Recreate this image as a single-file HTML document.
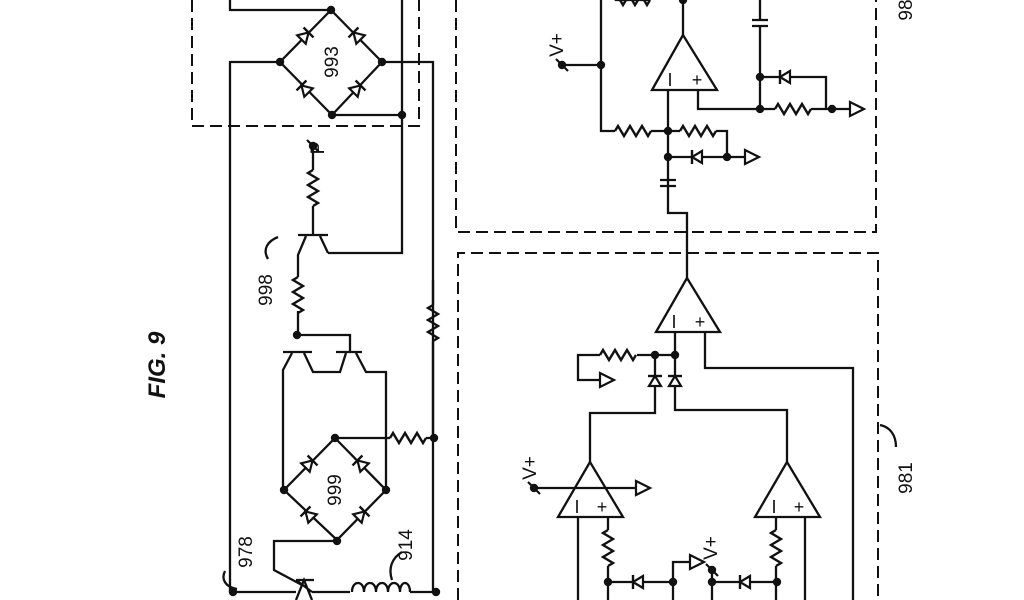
<!DOCTYPE html>
<html><head><meta charset="utf-8"><style>
html,body{margin:0;padding:0;background:#fff;width:1024px;height:600px;overflow:hidden}
svg{display:block}
text{font-family:"Liberation Sans",sans-serif;fill:#111}
</style></head><body>
<svg width="1024" height="600" viewBox="0 0 1024 600" xmlns="http://www.w3.org/2000/svg">
<defs>
<path id="rh" d="M0 0 l3 -5 l6 10 l6 -10 l6 10 l6 -10 l6 10 l3 -5" fill="none" stroke="#111" stroke-width="2.4"/>
<path id="rv" d="M0 0 l-5 3 l10 6 l-10 6 l10 6 l-10 6 l10 6 l-5 3" fill="none" stroke="#111" stroke-width="2.4"/>
<g id="d"><path d="M-5 -6 L5 0 L-5 6 Z" fill="#fff" stroke="#111" stroke-width="2.2"/><path d="M5 -7 V7" stroke="#111" stroke-width="2.4"/></g>
<path id="g" d="M0 -7 L14 0 L0 7 Z" fill="#fff" stroke="#111" stroke-width="2.2"/>
<circle id="n" r="4.2" fill="#111"/>
</defs>
<g fill="none" stroke="#111" stroke-width="2.3">
<g stroke-dasharray="12 6" stroke-width="2">
<path d="M192 0 V126 H419 V0"/>
<path d="M456 0 V232 H876 V0"/>
<path d="M458 600 V253 H878 V600"/>
</g>
<path d="M230 0 V10 H331"/>
<path d="M331 10 L382 62 L332 115 L280 62 Z"/>
<path d="M402 0 V253 H328"/>
<path d="M332 115 H402"/>
<path d="M280 62 H230 V592"/>
<path d="M382 62 H433 V592"/>
<path d="M313 148 V170 M313 206 V235"/>
<path d="M298 235 H328"/>
<path d="M320 236 L328 253"/>
<path d="M306 236 L298 255 V277 M298 311 V335"/>
<path d="M297 335 H350 V352"/>
<path d="M283 352 H312 M336 352 H362"/>
<path d="M292 353 L283 370 V490"/>
<path d="M304 353 L313 372 H340 L346 353"/>
<path d="M356 353 L366 372 H386 V490"/>
<path d="M335 438 L386 490 L337 540 L284 490 Z"/>
<path d="M335 438 H390 M426 438 H433"/>
<path d="M433 280 V305 M433 341 V438"/>
<path d="M337 541 H274 V570 L302 585"/>
<path d="M232 592 H296 M312 592 H350 M410 592 H436"/>
<path d="M352 592 c0 -12 12 -12 12 0 c0 -12 12 -12 12 0 c0 -12 12 -12 12 0 c0 -12 12 -12 12 0 c0 -12 10 -12 10 0"/>
<path d="M392 580 c-4 -12 0 -22 10 -28"/>
<path d="M296 580 L312 592 M296 600 L304 580 L312 600 M296 580 H314"/>
<path d="M225 571 c-4 8 0 16 12 18"/>
<path d="M268 259 c-6 -10 0 -18 10 -22"/>
<path d="M683 35 L652 90 H717 Z"/>
<path d="M683 0 V35"/>
<path d="M601 0 V131 H615 M651 131 H680 M716 131 H727 V157"/>
<path d="M562 65 H601"/>
<path d="M615 0 H650"/>
<path d="M760 0 V20 M752 20 H768 M752 26 H768 M760 26 V109"/>
<path d="M760 77 H826 V109"/>
<path d="M668 90 V213 M660 180 H676 M660 186 H676 M668 186 V213 H687 V280"/>
<path d="M668 157 H745"/>
<path d="M698 90 V109 H775 M811 109 H850"/>
<path d="M687 278 L656 332 H720 Z"/>
<path d="M675 332 V388 M705 332 V368 H853 V600"/>
<path d="M655 355 H675 M637 355 H655 M600 355 H578 V380 H600"/>
<path d="M655 355 V413 H590 V462 M675 388 V410 H787 V462"/>
<path d="M590 462 L558 517 H623 Z"/>
<path d="M534 488 H650"/>
<path d="M578 517 V600 M608 517 V530 M608 566 V600 M608 582 H673 V562 H690"/>
<path d="M673 582 V600"/>
<path d="M787 462 L755 517 H820 Z"/>
<path d="M712 570 V600 M712 582 H777 M776 517 V530 M776 566 V600 M805 517 V600"/>
<path d="M880 425 c10 2 16 10 16 22"/>
</g>
<use href="#rv" x="313" y="170"/>
<use href="#rv" x="298" y="277"/>
<use href="#rv" x="433" y="305"/>
<use href="#rh" x="390" y="438"/>
<use href="#rh" x="615" y="131"/>
<use href="#rh" x="680" y="131"/>
<use href="#rh" x="614" y="0"/>
<use href="#rh" x="775" y="109"/>
<use href="#rh" x="600" y="355"/>
<use href="#rv" x="608" y="530"/>
<use href="#rv" x="776" y="530"/>
<use href="#d" transform="translate(305,36) rotate(-45)"/>
<use href="#d" transform="translate(357,36) rotate(225)"/>
<use href="#d" transform="translate(305,89) rotate(-135)"/>
<use href="#d" transform="translate(357,89) rotate(-45)"/>
<use href="#d" transform="translate(309,464) rotate(-45)"/>
<use href="#d" transform="translate(361,464) rotate(225)"/>
<use href="#d" transform="translate(309,515) rotate(-135)"/>
<use href="#d" transform="translate(361,515) rotate(-45)"/>
<use href="#d" transform="translate(785,77) rotate(180)"/>
<use href="#d" transform="translate(697,157) rotate(180)"/>
<use href="#d" transform="translate(655,381) rotate(-90)"/>
<use href="#d" transform="translate(675,381) rotate(-90)"/>
<use href="#d" transform="translate(638,582) rotate(180)"/>
<use href="#d" transform="translate(745,582) rotate(180)"/>
<use href="#g" x="850" y="109"/>
<use href="#g" x="745" y="157"/>
<use href="#g" x="600" y="380"/>
<use href="#g" x="636" y="488"/>
<use href="#g" x="690" y="562"/>
<use href="#n" x="331" y="10"/><use href="#n" x="280" y="62"/><use href="#n" x="382" y="62"/>
<use href="#n" x="332" y="115"/><use href="#n" x="402" y="115"/>
<use href="#n" x="297" y="335"/><use href="#n" x="335" y="438"/><use href="#n" x="284" y="490"/>
<use href="#n" x="386" y="490"/><use href="#n" x="337" y="541"/><use href="#n" x="434" y="438"/>
<use href="#n" x="233" y="592"/><use href="#n" x="436" y="592"/>
<use href="#n" x="683" y="0"/><use href="#n" x="601" y="65"/><use href="#n" x="760" y="77"/>
<use href="#n" x="760" y="109"/><use href="#n" x="832" y="109"/><use href="#n" x="668" y="131"/>
<use href="#n" x="668" y="157"/><use href="#n" x="727" y="157"/>
<use href="#n" x="655" y="355"/><use href="#n" x="675" y="355"/>
<use href="#n" x="608" y="582"/><use href="#n" x="673" y="582"/><use href="#n" x="712" y="582"/><use href="#n" x="777" y="582"/>
<use href="#n" x="313" y="146"/><use href="#n" x="562" y="65"/><use href="#n" x="534" y="488"/><use href="#n" x="712" y="570"/>
<g stroke="#111" stroke-width="2.2"><path d="M307 140 L319 152 M556 59 L568 71 M528 482 L540 494 M706 564 L718 576"/></g>
<g font-size="18" text-anchor="middle">
<text x="670" y="86">I</text><text x="697" y="86">+</text>
<text x="674" y="328">I</text><text x="700" y="328">+</text>
<text x="577" y="513">I</text><text x="602" y="513">+</text>
<text x="774" y="513">I</text><text x="799" y="513">+</text>
</g>
<g font-size="19" text-anchor="middle">
<text transform="translate(338,62) rotate(-90)">993</text>
<text transform="translate(341,490) rotate(-90)">999</text>
<text transform="translate(272,290) rotate(-90)">998</text>
<text transform="translate(252,552) rotate(-90)">978</text>
<text transform="translate(412,545) rotate(-90)">914</text>
<text transform="translate(324,148) rotate(-90)">P</text>
<text transform="translate(563,45) rotate(-90)">V+</text>
<text transform="translate(536,468) rotate(-90)">V+</text>
<text transform="translate(717,548) rotate(-90)">V+</text>
<text transform="translate(912,478) rotate(-90)">981</text>
<text transform="translate(912,10) rotate(-90)">98</text>
<text transform="translate(165,365) rotate(-90)" font-size="24" font-weight="bold" font-style="italic">FIG. 9</text>
</g>
</svg>
</body></html>
